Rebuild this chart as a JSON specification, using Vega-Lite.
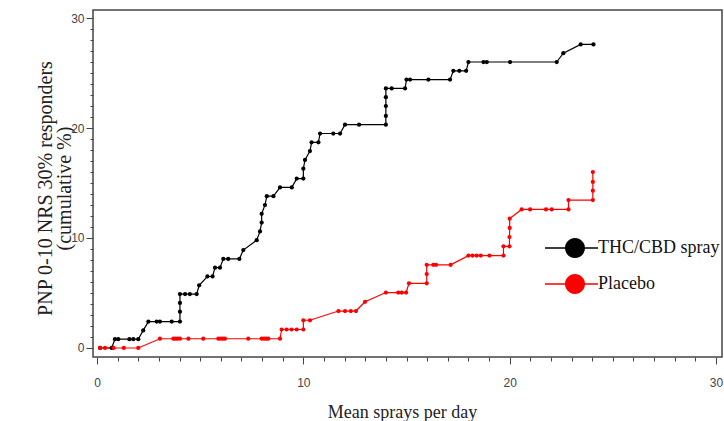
{
  "$schema": "https://vega.github.io/schema/vega-lite/v6.json",
  "width": 629,
  "height": 347,
  "autosize": {"type": "none"},
  "padding": {"left": 93, "top": 10, "right": 2, "bottom": 64},
  "background": "white",
  "config": {
    "view": {"stroke": "#444", "strokeWidth": 1.5},
    "axis": {
      "domain": false, "grid": false,
      "labelFont": "Liberation Sans", "labelFontSize": 12, "labelColor": "#444",
      "tickColor": "#444", "tickWidth": 1,
      "titleFont": "Liberation Serif", "titleFontWeight": "normal", "titleColor": "#222"
    },
    "legend": {"labelFont": "Liberation Serif", "labelFontSize": 18, "labelColor": "#111"}
  },
  "data": {"values": [
    {"g":"THC/CBD spray","i":1,"x":0.15,"y":0},{"g":"THC/CBD spray","i":2,"x":0.71,"y":0},{"g":"THC/CBD spray","i":3,"x":0.87,"y":0.8},{"g":"THC/CBD spray","i":4,"x":1.03,"y":0.8},{"g":"THC/CBD spray","i":5,"x":1.57,"y":0.8},{"g":"THC/CBD spray","i":6,"x":1.76,"y":0.8},{"g":"THC/CBD spray","i":7,"x":2.0,"y":0.8},{"g":"THC/CBD spray","i":8,"x":2.24,"y":1.6},{"g":"THC/CBD spray","i":9,"x":2.49,"y":2.4},{"g":"THC/CBD spray","i":10,"x":2.89,"y":2.4},{"g":"THC/CBD spray","i":11,"x":3.05,"y":2.4},{"g":"THC/CBD spray","i":12,"x":3.62,"y":2.4},{"g":"THC/CBD spray","i":13,"x":4.02,"y":2.4},{"g":"THC/CBD spray","i":14,"x":4.02,"y":3.3},{"g":"THC/CBD spray","i":15,"x":4.02,"y":4.1},{"g":"THC/CBD spray","i":16,"x":4.02,"y":4.9},{"g":"THC/CBD spray","i":17,"x":4.27,"y":4.9},{"g":"THC/CBD spray","i":18,"x":4.5,"y":4.9},{"g":"THC/CBD spray","i":19,"x":4.83,"y":4.9},{"g":"THC/CBD spray","i":20,"x":4.95,"y":5.7},{"g":"THC/CBD spray","i":21,"x":5.35,"y":6.5},{"g":"THC/CBD spray","i":22,"x":5.6,"y":6.5},{"g":"THC/CBD spray","i":23,"x":5.72,"y":7.3},{"g":"THC/CBD spray","i":24,"x":5.96,"y":7.3},{"g":"THC/CBD spray","i":25,"x":6.12,"y":8.1},{"g":"THC/CBD spray","i":26,"x":6.36,"y":8.1},{"g":"THC/CBD spray","i":27,"x":6.9,"y":8.1},{"g":"THC/CBD spray","i":28,"x":7.09,"y":8.9},{"g":"THC/CBD spray","i":29,"x":7.74,"y":9.8},{"g":"THC/CBD spray","i":30,"x":7.9,"y":10.6},{"g":"THC/CBD spray","i":31,"x":7.98,"y":11.4},{"g":"THC/CBD spray","i":32,"x":7.98,"y":12.2},{"g":"THC/CBD spray","i":33,"x":8.14,"y":13.0},{"g":"THC/CBD spray","i":34,"x":8.23,"y":13.8},{"g":"THC/CBD spray","i":35,"x":8.55,"y":13.8},{"g":"THC/CBD spray","i":36,"x":8.87,"y":14.6},{"g":"THC/CBD spray","i":37,"x":9.44,"y":14.6},{"g":"THC/CBD spray","i":38,"x":9.68,"y":15.4},{"g":"THC/CBD spray","i":39,"x":10.0,"y":15.4},{"g":"THC/CBD spray","i":40,"x":10.0,"y":16.3},{"g":"THC/CBD spray","i":41,"x":10.08,"y":17.1},{"g":"THC/CBD spray","i":42,"x":10.32,"y":17.9},{"g":"THC/CBD spray","i":43,"x":10.4,"y":18.7},{"g":"THC/CBD spray","i":44,"x":10.73,"y":18.7},{"g":"THC/CBD spray","i":45,"x":10.81,"y":19.5},{"g":"THC/CBD spray","i":46,"x":11.45,"y":19.5},{"g":"THC/CBD spray","i":47,"x":11.78,"y":19.5},{"g":"THC/CBD spray","i":48,"x":12.02,"y":20.3},{"g":"THC/CBD spray","i":49,"x":12.7,"y":20.3},{"g":"THC/CBD spray","i":50,"x":14.0,"y":20.3},{"g":"THC/CBD spray","i":51,"x":14.0,"y":21.1},{"g":"THC/CBD spray","i":52,"x":14.0,"y":22.0},{"g":"THC/CBD spray","i":53,"x":14.0,"y":22.8},{"g":"THC/CBD spray","i":54,"x":14.0,"y":23.6},{"g":"THC/CBD spray","i":55,"x":14.28,"y":23.6},{"g":"THC/CBD spray","i":56,"x":14.93,"y":23.6},{"g":"THC/CBD spray","i":57,"x":15.0,"y":24.4},{"g":"THC/CBD spray","i":58,"x":15.17,"y":24.4},{"g":"THC/CBD spray","i":59,"x":16.06,"y":24.4},{"g":"THC/CBD spray","i":60,"x":17.11,"y":24.4},{"g":"THC/CBD spray","i":61,"x":17.27,"y":25.2},{"g":"THC/CBD spray","i":62,"x":17.56,"y":25.2},{"g":"THC/CBD spray","i":63,"x":17.89,"y":25.2},{"g":"THC/CBD spray","i":64,"x":18.0,"y":26.0},{"g":"THC/CBD spray","i":65,"x":18.73,"y":26.0},{"g":"THC/CBD spray","i":66,"x":18.89,"y":26.0},{"g":"THC/CBD spray","i":67,"x":20.02,"y":26.0},{"g":"THC/CBD spray","i":68,"x":22.28,"y":26.0},{"g":"THC/CBD spray","i":69,"x":22.6,"y":26.8},{"g":"THC/CBD spray","i":70,"x":23.44,"y":27.6},{"g":"THC/CBD spray","i":71,"x":24.06,"y":27.6},
    {"g":"Placebo","i":1,"x":0.15,"y":0},{"g":"Placebo","i":2,"x":0.39,"y":0},{"g":"Placebo","i":3,"x":0.8,"y":0},{"g":"Placebo","i":4,"x":1.3,"y":0},{"g":"Placebo","i":5,"x":2.0,"y":0},{"g":"Placebo","i":6,"x":3.05,"y":0.84},{"g":"Placebo","i":7,"x":3.7,"y":0.84},{"g":"Placebo","i":8,"x":3.8,"y":0.84},{"g":"Placebo","i":9,"x":3.9,"y":0.84},{"g":"Placebo","i":10,"x":4.02,"y":0.84},{"g":"Placebo","i":11,"x":4.43,"y":0.84},{"g":"Placebo","i":12,"x":5.15,"y":0.84},{"g":"Placebo","i":13,"x":5.88,"y":0.84},{"g":"Placebo","i":14,"x":6.0,"y":0.84},{"g":"Placebo","i":15,"x":6.1,"y":0.84},{"g":"Placebo","i":16,"x":6.2,"y":0.84},{"g":"Placebo","i":17,"x":7.33,"y":0.84},{"g":"Placebo","i":18,"x":7.98,"y":0.84},{"g":"Placebo","i":19,"x":8.1,"y":0.84},{"g":"Placebo","i":20,"x":8.2,"y":0.84},{"g":"Placebo","i":21,"x":8.3,"y":0.84},{"g":"Placebo","i":22,"x":8.87,"y":0.84},{"g":"Placebo","i":23,"x":8.95,"y":1.68},{"g":"Placebo","i":24,"x":9.19,"y":1.68},{"g":"Placebo","i":25,"x":9.43,"y":1.68},{"g":"Placebo","i":26,"x":9.68,"y":1.68},{"g":"Placebo","i":27,"x":10.0,"y":1.68},{"g":"Placebo","i":28,"x":10.0,"y":2.52},{"g":"Placebo","i":29,"x":10.32,"y":2.52},{"g":"Placebo","i":30,"x":11.7,"y":3.36},{"g":"Placebo","i":31,"x":12.02,"y":3.36},{"g":"Placebo","i":32,"x":12.3,"y":3.36},{"g":"Placebo","i":33,"x":12.55,"y":3.36},{"g":"Placebo","i":34,"x":12.99,"y":4.2},{"g":"Placebo","i":35,"x":14.0,"y":5.04},{"g":"Placebo","i":36,"x":14.6,"y":5.04},{"g":"Placebo","i":37,"x":14.77,"y":5.04},{"g":"Placebo","i":38,"x":14.98,"y":5.04},{"g":"Placebo","i":39,"x":15.12,"y":5.88},{"g":"Placebo","i":40,"x":15.98,"y":5.88},{"g":"Placebo","i":41,"x":15.98,"y":6.72},{"g":"Placebo","i":42,"x":15.98,"y":7.56},{"g":"Placebo","i":43,"x":16.3,"y":7.56},{"g":"Placebo","i":44,"x":16.43,"y":7.56},{"g":"Placebo","i":45,"x":17.14,"y":7.56},{"g":"Placebo","i":46,"x":18.0,"y":8.4},{"g":"Placebo","i":47,"x":18.2,"y":8.4},{"g":"Placebo","i":48,"x":18.4,"y":8.4},{"g":"Placebo","i":49,"x":18.6,"y":8.4},{"g":"Placebo","i":50,"x":19.02,"y":8.4},{"g":"Placebo","i":51,"x":19.7,"y":8.4},{"g":"Placebo","i":52,"x":19.7,"y":9.24},{"g":"Placebo","i":53,"x":19.99,"y":9.24},{"g":"Placebo","i":54,"x":19.99,"y":10.08},{"g":"Placebo","i":55,"x":20.0,"y":10.92},{"g":"Placebo","i":56,"x":20.0,"y":11.76},{"g":"Placebo","i":57,"x":20.58,"y":12.6},{"g":"Placebo","i":58,"x":20.99,"y":12.6},{"g":"Placebo","i":59,"x":21.76,"y":12.6},{"g":"Placebo","i":60,"x":22.04,"y":12.6},{"g":"Placebo","i":61,"x":22.85,"y":12.6},{"g":"Placebo","i":62,"x":22.85,"y":13.45},{"g":"Placebo","i":63,"x":24.03,"y":13.45},{"g":"Placebo","i":64,"x":24.03,"y":14.3},{"g":"Placebo","i":65,"x":24.03,"y":15.1},{"g":"Placebo","i":66,"x":24.03,"y":16.0}
  ]},
  "encoding": {
    "x": {
      "field": "x", "type": "quantitative",
      "scale": {"domain": [-0.194, 30.29], "nice": false, "zero": false},
      "axis": {
        "values": [0,1,2,3,4,5,6,7,8,9,10,11,12,13,14,15,16,17,18,19,20,21,22,23,24,25,26,27,28,29,30],
        "labelExpr": "datum.value % 10 === 0 ? datum.label : ''",
        "tickSize": {"condition": {"test": "datum.value % 10 === 0", "value": 7}, "value": 4},
        "labelPadding": 13, "labelFlush": false, "labelOverlap": false,
        "title": "Mean sprays per day", "titleFontSize": 18,
        "titleX": 309, "titleY": 60, "titleBaseline": "alphabetic", "titleAlign": "center"
      }
    },
    "y": {
      "field": "y", "type": "quantitative",
      "scale": {"domain": [-0.82, 30.73], "nice": false, "zero": false},
      "axis": {
        "values": [0,1,2,3,4,5,6,7,8,9,10,11,12,13,14,15,16,17,18,19,20,21,22,23,24,25,26,27,28,29,30],
        "labelExpr": "datum.value % 10 === 0 ? datum.label : ''",
        "tickSize": {"condition": {"test": "datum.value % 10 === 0", "value": 7}, "value": 3},
        "labelPadding": 2, "labelFlush": false, "labelOverlap": false,
        "title": ["PNP 0-10 NRS 30% responders", "(cumulative %)"],
        "titleFontSize": 20, "titleLineHeight": 19,
        "titleX": -48, "titleY": 178, "titleBaseline": "middle", "titleAlign": "center", "titleAngle": -90
      }
    },
    "color": {
      "field": "g", "type": "nominal",
      "scale": {"domain": ["THC/CBD spray", "Placebo"], "range": ["#000000", "#ff0000"]},
      "legend": {
        "title": null, "orient": "none", "legendX": 472, "legendY": 228,
        "labelFont": "Liberation Serif", "labelFontSize": 18, "labelColor": "#111",
        "symbolType": "M-3,-0.075L2.3,-0.075L2.3,0.075L-3,0.075Z M-1,0A1,1 0 1,1 1,0A1,1 0 1,1 -1,0Z",
        "symbolSize": 400, "symbolStrokeWidth": 0, "symbolOpacity": 1,
        "labelOffset": 13, "rowPadding": 16, "padding": 0, "labelLimit": 300
      }
    }
  },
  "layer": [
    {
      "mark": {"type": "line", "strokeWidth": 1.2},
      "encoding": {
        "order": {"field": "i", "type": "quantitative"}
      }
    },
    {
      "mark": {"type": "point", "filled": true, "size": 18, "opacity": 1}
    }
  ]
}
